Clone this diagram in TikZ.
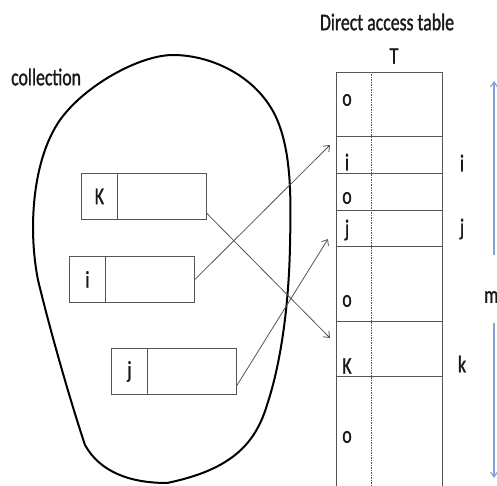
\documentclass[tikz,border=0pt]{standalone}
\usepackage{fontspec}
\setmainfont[FakeStretch=0.74,FakeBold=1.2]{Carlito}
\usetikzlibrary{arrows.meta}
\definecolor{linegray}{RGB}{85,85,85}
\definecolor{axisblue}{RGB}{130,165,212}
\tikzset{
  lbl/.style={inner sep=0pt, font=\fontsize{24}{26}\selectfont, text=black!90},
  keycell/.style={draw=linegray, line width=0.9pt, minimum width=36pt, minimum height=46pt, inner sep=0pt, anchor=north west},
  datacell/.style={draw=linegray, line width=0.9pt, minimum width=89pt, minimum height=46pt, inner sep=0pt, anchor=north west},
  rowcell/.style={draw=linegray, line width=0.9pt, minimum width=106pt, inner sep=0pt, anchor=north west},
  link/.style={draw=linegray, line width=0.8pt, -{Straight Barb[length=5pt,width=8pt]}},
  blob/.style={draw=black, line width=2pt},
  span/.style={draw=axisblue, line width=1.2pt, -{Straight Barb[length=5pt,width=7pt]}}
}
\begin{document}
\begin{tikzpicture}[x=1pt, y=-1pt]
\useasboundingbox (0,0) rectangle (497,486);

% collection blob
\draw[blob] (173,55)
  .. controls (210,55) and (255,75) .. (275,115)
  .. controls (292,150) and (291,200) .. (290,245)
  .. controls (289,300) and (282,360) .. (267,405)
  .. controls (255,445) and (230,470) .. (167,483)
  .. controls (130,483) and (100,472) .. (85,445)
  .. controls (70,400) and (50,330) .. (38,280)
  .. controls (28,230) and (32,160) .. (60,120)
  .. controls (85,85) and (140,55) .. (173,55) -- cycle;
\node[lbl, anchor=west] (coll) at (11,77) {collection};

% records in the collection
\node[keycell] (kk) at (81,173) {};
\node[datacell] (kd) at (117,173) {};
\node[lbl] at (kk.center) {K};
\node[keycell] (ik) at (69,256) {};
\node[datacell] (id) at (105,256) {};
\node[lbl] at (ik.center) {i};
\node[keycell] (jk) at (111,348) {};
\node[datacell] (jd) at (147,348) {};
\node[lbl] at (jk.center) {j};

% table
\node[lbl] (title) at (387,22) {Direct access table};
\node[lbl] (T) at (394,56) {T};
\node[rowcell, minimum height=64pt] (r0) at (336,72) {};
\node[rowcell, minimum height=37pt] (r1) at (336,136) {};
\node[rowcell, minimum height=37pt] (r2) at (336,173) {};
\node[rowcell, minimum height=36pt] (r3) at (336,210) {};
\node[rowcell, minimum height=75pt] (r4) at (336,246) {};
\node[rowcell, minimum height=55pt] (r5) at (336,321) {};
\node[rowcell, minimum height=130pt] (r6) at (336,376) {};
\path (r0.north west) ++(35,0) coordinate (dtop);
\draw[linegray, line width=0.6pt, dash pattern=on 1.5pt off 1pt] (dtop) -- (dtop |- r6.south);

\node[lbl] at (347,100) {o};
\node[lbl] at (347,162) {i};
\node[lbl] at (347,198) {o};
\node[lbl] at (347,230) {j};
\node[lbl] at (347,301) {o};
\node[lbl] at (347,366) {K};
\node[lbl] at (347,437) {o};

\node[lbl] at (462,163) {i};
\node[lbl] at (462,229) {j};
\node[lbl] at (462,364) {k};
\node[lbl, anchor=west] (m) at (484,297) {m};

% connectors
\coordinate (ti) at (330,145);
\coordinate (tj) at (328,239);
\coordinate (tk) at (330,338);
\path (kd.east) ++(0,17) coordinate (ko);
\path (jd.east) ++(0,14) coordinate (jo);
\draw[link] (ko) -- (tk);
\draw[link] (id.east) -- (ti);
\draw[link] (jo) -- (tj);

% blue span arrow
\coordinate (mtop) at (494,81);
\coordinate (mbot) at (494,478);
\draw[span] (494,255) -- (mtop);
\draw[span] (494,323) -- (mbot);
\end{tikzpicture}
\end{document}
